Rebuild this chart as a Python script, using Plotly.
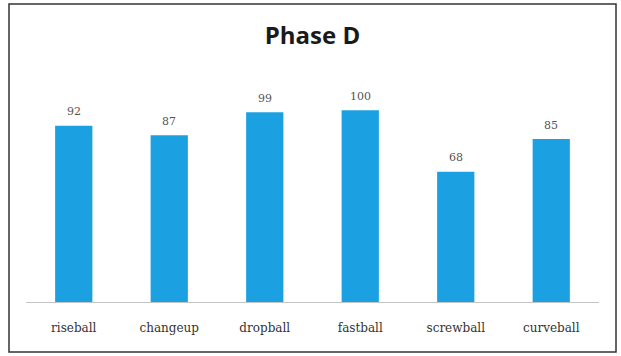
import plotly.graph_objects as go

# Pitch types and their Phase D scores
pitches = ["riseball", "changeup", "dropball", "fastball", "screwball", "curveball"]
scores = [92, 87, 99, 100, 68, 85]

bar_color = "#1ba1e2"
W, H = 621, 356
ml, mr, mt, mb = 26, 22, 72, 54

fig = go.Figure(
    go.Bar(
        x=pitches,
        y=scores,
        marker=dict(color=bar_color, line=dict(width=0)),
        hoverinfo="x+y",
    )
)

# Value labels above each bar
for p, s in zip(pitches, scores):
    fig.add_annotation(
        x=p, y=s, text=str(s), showarrow=False, yshift=14,
        font=dict(family="DejaVu Serif, Liberation Serif, serif", size=11, color="#555555"),
    )

pw = W - ml - mr
ph = H - mt - mb
def px(x):
    return (x - ml) / pw
def py(y):
    return (H - mb - y) / ph

# Outer chart frame
fig.add_shape(
    type="rect", xref="paper", yref="paper",
    x0=px(9), x1=px(616), y0=py(4), y1=py(352),
    line=dict(color="#333333", width=1.5), fillcolor="rgba(0,0,0,0)", layer="below",
)

fig.update_layout(
    width=W, height=H,
    margin=dict(l=ml, r=mr, t=mt, b=mb),
    paper_bgcolor="white", plot_bgcolor="white",
    bargap=0.61,
    showlegend=False,
    title=dict(
        text="<b>Phase D</b>", x=0.5, xanchor="center", xref="paper",
        y=1 - 36 / H, yanchor="middle", yref="container",
        font=dict(family="Open Sans, Liberation Sans, sans-serif", size=24, color="#1a1a1a"),
    ),
    xaxis=dict(
        showgrid=False, zeroline=False, showline=True, linecolor="#c4c4c4", linewidth=1,
        ticks="", ticklabelstandoff=15,
        tickfont=dict(family="DejaVu Serif, Liberation Serif, serif", size=12, color="#333333"),
    ),
    yaxis=dict(range=[0, 120], visible=False, showgrid=False, zeroline=False),
)

fig.write_html("out.html")
